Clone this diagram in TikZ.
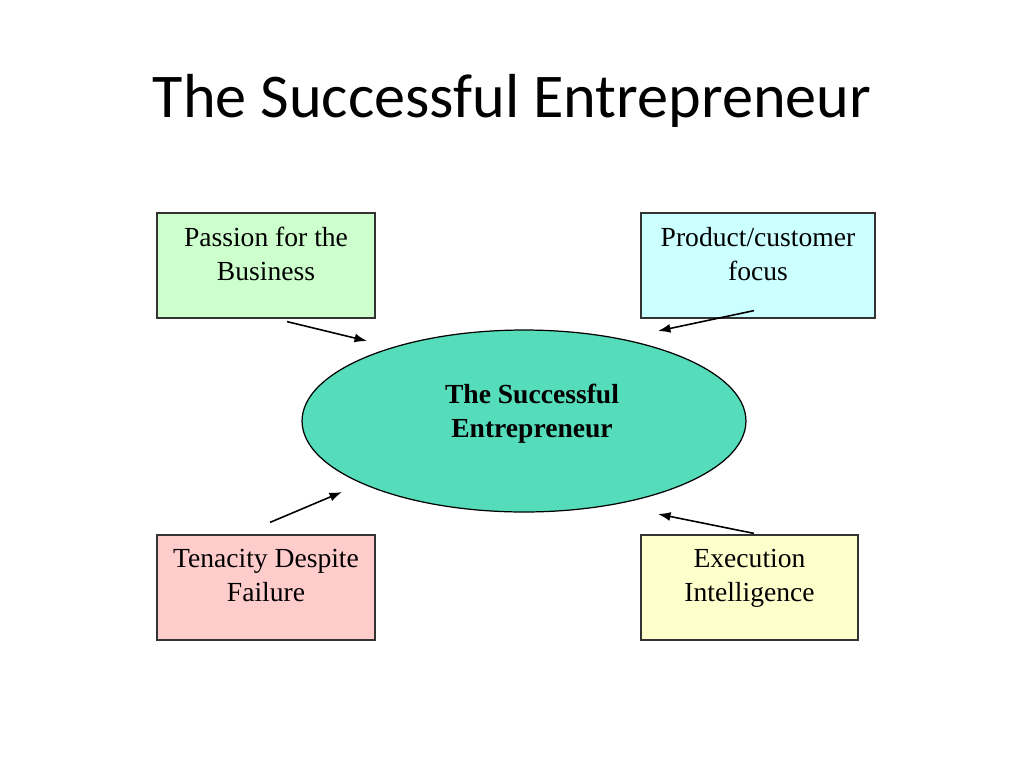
\documentclass[tikz,border=0pt]{standalone}
\usepackage{fontspec}
\setmainfont{Liberation Serif}
\newfontfamily\titlefont{Carlito}
\usetikzlibrary{arrows.meta,calc,shapes.geometric}

\definecolor{passionfill}{RGB}{204,255,204}
\definecolor{productfill}{RGB}{204,255,255}
\definecolor{tenacityfill}{RGB}{255,204,204}
\definecolor{executionfill}{RGB}{255,255,204}
\definecolor{corefill}{RGB}{85,221,187}

\begin{document}
\begin{tikzpicture}[x=0.02cm, y=-0.02cm,
  box/.style={draw=black!80, line width=0.7pt, minimum height=2.1cm, inner sep=0pt},
  boxtext/.style={anchor=north, align=center, inner sep=0pt,
    font=\fontsize{15.7pt}{19.4pt}\selectfont},
  arrow/.style={-{Latex[length=2.5mm,width=1.8mm]}, line width=0.9pt}]
\useasboundingbox (0,0) rectangle (1024,768);

% Title
\node[anchor=base, font=\titlefont\fontsize{35.4pt}{42pt}\selectfont] (title) at (512,117) {The Successful Entrepreneur};

% Centre - the entrepreneur
\node[draw, ellipse, fill=corefill, line width=0.7pt, minimum width=8.88cm, minimum height=3.64cm, inner sep=0pt] (core) at (524,421) {};
\node[boxtext, font=\bfseries\fontsize{15.7pt}{19.4pt}\selectfont] (coretext) at (532,384) {The Successful\\Entrepreneur};

% Box 1 - passion
\node[box, fill=passionfill, minimum width=4.36cm] (passion) at (266,265.5) {};
\node[boxtext] (passiontext) at (266,227) {Passion for the\\Business};

% Box 2 - product
\node[box, fill=productfill, minimum width=4.68cm] (product) at (758,265.5) {};
\node[boxtext] (producttext) at (758,227) {Product/customer\\focus};

% Box 3 - tenacity
\node[box, fill=tenacityfill, minimum width=4.36cm] (tenacity) at (266,587.5) {};
\node[boxtext] (tenacitytext) at (266,549) {Tenacity Despite\\Failure};

% Box 4 - execution
\node[box, fill=executionfill, minimum width=4.34cm] (execution) at (749.5,587.5) {};
\node[boxtext] (executiontext) at (749.5,549) {Execution\\Intelligence};

% Arrows
\draw[arrow] ($(passion.south)+(21,3)$) -- ($(core)+(-157,-80)$);
\draw[arrow] ($(product.south)+(-4,-8)$) -- ($(core)+(134,-90)$);
\draw[arrow] ($(tenacity.north)+(4,-12)$) -- ($(core)+(-182,71)$);
\draw[arrow] ($(execution.north)+(4.5,-1)$) -- ($(core)+(134,93)$);
\end{tikzpicture}
\end{document}
